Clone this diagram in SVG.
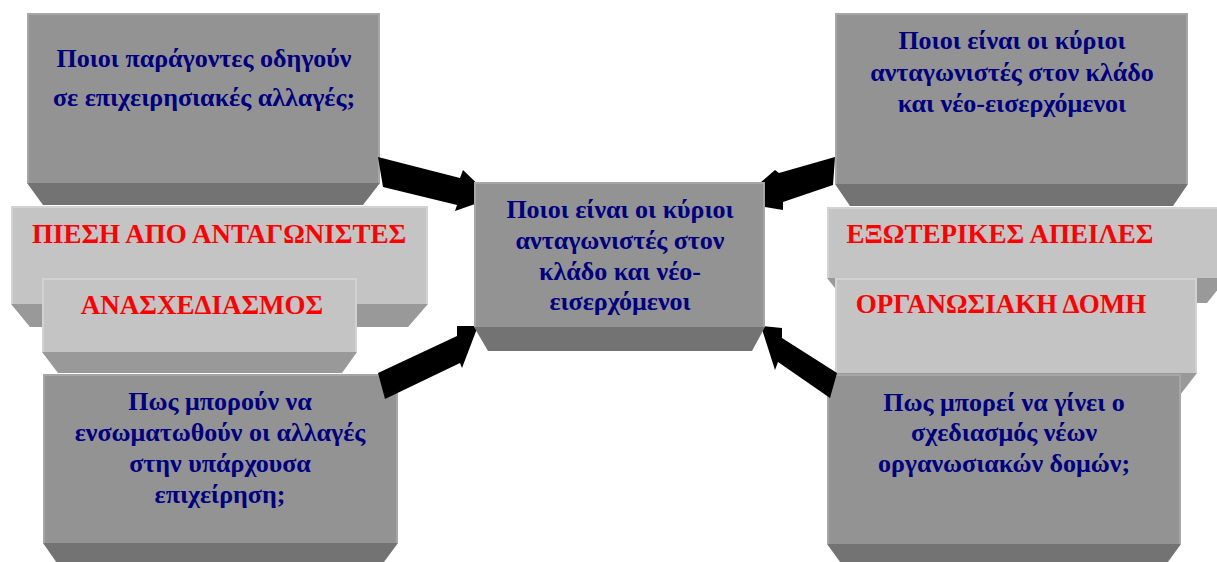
<svg xmlns="http://www.w3.org/2000/svg" width="1217" height="562" viewBox="0 0 1217 562">
<style>
.fd{fill:#939393}
.bd{fill:#737373}
.ed{fill:none;stroke:#a6a6a6;stroke-width:2}
.fl{fill:#c4c4c4}
.bl{fill:#999999}
.el{fill:none;stroke:#d2d2d2;stroke-width:2}
.q{font-family:"Liberation Serif","Times New Roman",serif;font-weight:bold;font-size:26px;fill:#000080;text-anchor:middle}
.h{font-family:"Liberation Serif","Times New Roman",serif;font-weight:bold;font-size:27px;fill:#ff0000;text-anchor:middle}
.arrow{fill:#000000}
</style>
<rect width="1217" height="562" fill="#ffffff"/>

<g id="node-drivers">
<rect class="fd" x="27" y="13" width="353" height="170"/>
<polygon class="bd" points="27,183 380,183 363,205 43,205"/>
<polyline class="ed" points="28,183 28,14 379,14 379,183"/>
<text class="q" x="204" y="67">Ποιοι παράγοντες οδηγούν</text>
<text class="q" x="204" y="106">σε επιχειρησιακές αλλαγές;</text>
</g>

<g id="node-pressure">
<rect class="fl" x="11" y="206" width="417" height="98"/>
<polygon class="bl" points="11,304 428,304 408,327 30,327"/>
<polyline class="el" points="12,304 12,207 427,207 427,304"/>
<text class="h" x="219" y="243">ΠΙΕΣΗ ΑΠΟ ΑΝΤΑΓΩΝΙΣΤΕΣ</text>
</g>

<g id="node-redesign">
<rect class="fl" x="42" y="278" width="315" height="74"/>
<polygon class="bl" points="42,352 357,352 342,373 58,373"/>
<polyline class="el" points="43,352 43,279 356,279 356,352"/>
<text class="h" x="202" y="314">ΑΝΑΣΧΕΔΙΑΣΜΟΣ</text>
</g>

<g id="node-integrate">
<rect class="fd" x="43" y="374" width="355" height="169"/>
<polygon class="bd" points="43,543 398,543 381,566 59,566"/>
<polyline class="ed" points="44,543 44,375 397,375 397,543"/>
<text class="q" x="220" y="410">Πως μπορούν να</text>
<text class="q" x="220" y="441">ενσωματωθούν οι αλλαγές</text>
<text class="q" x="220" y="472">στην υπάρχουσα</text>
<text class="q" x="220" y="503">επιχείρηση;</text>
</g>

<g id="node-competitors-top">
<rect class="fd" x="835" y="13" width="353" height="171"/>
<polygon class="bd" points="835,184 1188,184 1173,206 850,206"/>
<polyline class="ed" points="836,184 836,14 1187,14 1187,184"/>
<text class="q" x="1012" y="49">Ποιοι είναι οι κύριοι</text>
<text class="q" x="1012" y="81">ανταγωνιστές στον κλάδο</text>
<text class="q" x="1012" y="112">και νέο-εισερχόμενοι</text>
</g>

<g id="node-threats">
<rect class="fl" x="827" y="207" width="400" height="71"/>
<polygon class="bl" points="827,278 1227,278 1207,303 847,303"/>
<polyline class="el" points="828,278 828,208 1227,208"/>
<text class="h" x="1000" y="243">ΕΞΩΤΕΡΙΚΕΣ ΑΠΕΙΛΕΣ</text>
</g>

<g id="node-structure">
<rect class="fl" x="835" y="278" width="362" height="95"/>
<polygon class="bl" points="835,373 1197,373 1180,395 851,395"/>
<polyline class="el" points="836,373 836,279 1196,279 1196,373"/>
<text class="h" x="1001" y="313">ΟΡΓΑΝΩΣΙΑΚΗ ΔΟΜΗ</text>
</g>

<g id="node-design">
<rect class="fd" x="827" y="374" width="354" height="170"/>
<polygon class="bd" points="827,544 1181,544 1165,566 843,566"/>
<polyline class="ed" points="828,544 828,375 1180,375 1180,544"/>
<text class="q" x="1004" y="411">Πως μπορεί να γίνει ο</text>
<text class="q" x="1004" y="441">σχεδιασμός νέων</text>
<text class="q" x="1004" y="472">οργανωσιακών δομών;</text>
</g>

<g id="connectors">
<polygon class="arrow" points="378,157 460,178 463,170 492,198 455,211 457,205 383,187"/>
<polygon class="arrow" points="385,399 378,373 457,336 457,326 478,326 462,368 460,363"/>
<polygon class="arrow" points="835,157 779,173 775,170 761,182 765,207 783,210 783,202 833,185"/>
<polygon class="arrow" points="761,326 782,328 782,338 837,373 830,398 778,362 775,370"/>
</g>

<g id="node-center">
<rect class="fd" x="474" y="182" width="291" height="145"/>
<polygon class="bd" points="474,327 765,327 752,351 488,351"/>
<polyline class="ed" points="475,327 475,183 764,183 764,327"/>
<text class="q" x="620" y="218">Ποιοι είναι οι κύριοι</text>
<text class="q" x="620" y="249">ανταγωνιστές στον</text>
<text class="q" x="620" y="280">κλάδο και νέο-</text>
<text class="q" x="620" y="310">εισερχόμενοι</text>
</g>
</svg>
